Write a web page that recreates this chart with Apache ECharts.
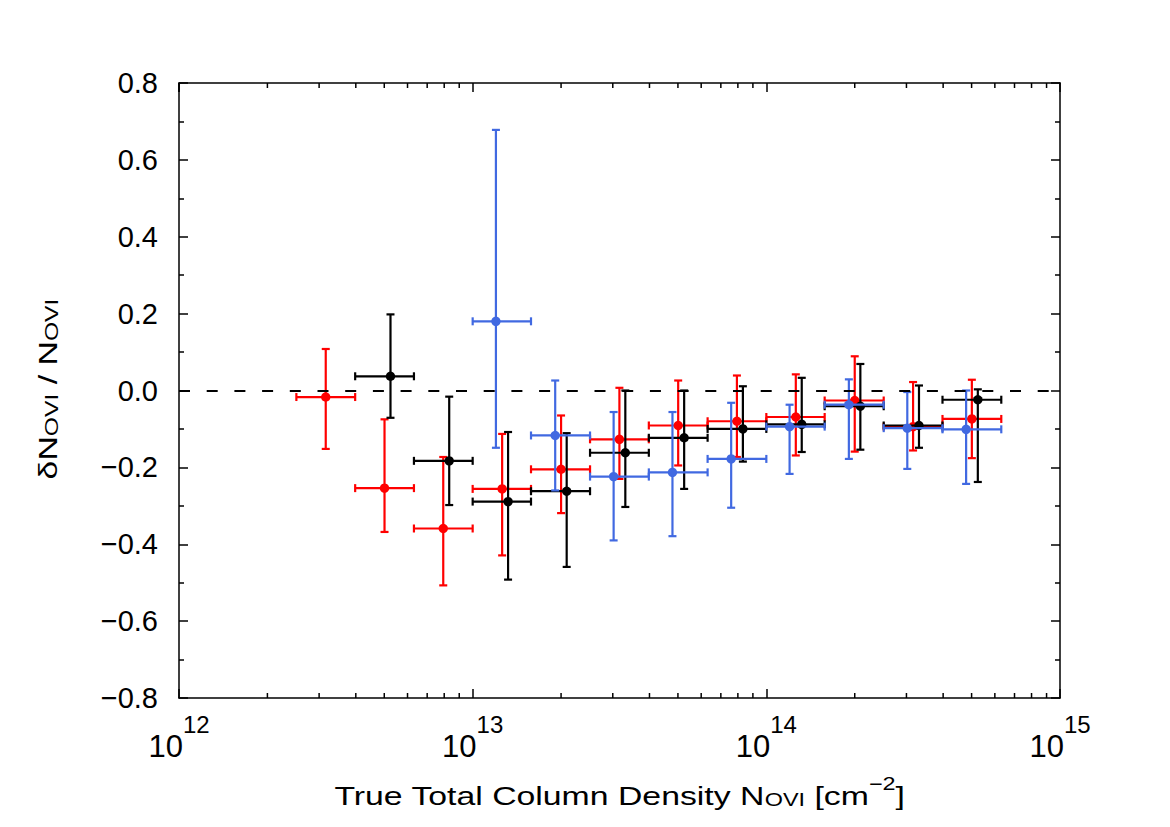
<!DOCTYPE html>
<html><head><meta charset="utf-8">
<script src="https://cdn.jsdelivr.net/npm/echarts@6/dist/echarts.min.js"></script>
<style>html,body{margin:0;padding:0;background:#fff}#c{width:1170px;height:827px}</style>
</head><body><div id="c"></div>
<script>
const FONT = '"Liberation Sans", Arial, Helvetica, sans-serif';

// Red series
const redX   = [3.16e12, 5.01e12, 7.94e12, 1.26e13, 2.00e13, 3.16e13, 5.01e13, 7.94e13, 1.26e14, 2.00e14, 3.16e14, 5.01e14];
const redXLo = [2.51e12, 3.98e12, 6.31e12, 1.00e13, 1.58e13, 2.51e13, 3.98e13, 6.31e13, 1.00e14, 1.58e14, 2.51e14, 3.98e14];
const redXHi = [3.98e12, 6.31e12, 1.00e13, 1.58e13, 2.51e13, 3.98e13, 6.31e13, 1.00e14, 1.58e14, 2.51e14, 3.98e14, 6.31e14];
const redY   = [-0.017, -0.254, -0.359, -0.256, -0.205, -0.127, -0.091, -0.080, -0.069, -0.026, -0.094, -0.074];
const redYHi = [0.108, -0.075, -0.173, -0.113, -0.065, 0.007, 0.026, 0.039, 0.042, 0.089, 0.022, 0.028];
const redYLo = [-0.152, -0.368, -0.507, -0.429, -0.319, -0.230, -0.195, -0.173, -0.169, -0.159, -0.156, -0.176];

// Black series
const blackX   = [5.25e12, 8.32e12, 1.32e13, 2.09e13, 3.31e13, 5.25e13, 8.32e13, 1.32e14, 2.09e14, 3.31e14, 5.25e14];
const blackXLo = [3.98e12, 6.31e12, 1.00e13, 1.58e13, 2.51e13, 3.98e13, 6.31e13, 1.00e14, 1.58e14, 2.51e14, 3.98e14];
const blackXHi = [6.31e12, 1.00e13, 1.58e13, 2.51e13, 3.98e13, 6.31e13, 1.00e14, 1.58e14, 2.51e14, 3.98e14, 6.31e14];
const blackY   = [0.037, -0.183, -0.289, -0.262, -0.162, -0.123, -0.100, -0.088, -0.041, -0.091, -0.024];
const blackYHi = [0.198, -0.016, -0.108, -0.111, 0.000, 0.000, 0.011, 0.033, 0.069, 0.013, 0.003];
const blackYLo = [-0.071, -0.298, -0.492, -0.459, -0.303, -0.256, -0.185, -0.160, -0.154, -0.149, -0.238];

// Blue series
const blueX   = [1.20e13, 1.91e13, 3.02e13, 4.79e13, 7.59e13, 1.20e14, 1.91e14, 3.02e14, 4.79e14];
const blueXLo = [1.00e13, 1.58e13, 2.51e13, 3.98e13, 6.31e13, 1.00e14, 1.58e14, 2.51e14, 3.98e14];
const blueXHi = [1.58e13, 2.51e13, 3.98e13, 6.31e13, 1.00e14, 1.58e14, 2.51e14, 3.98e14, 6.31e14];
const blueY   = [0.180, -0.117, -0.224, -0.213, -0.178, -0.094, -0.037, -0.098, -0.101];
const blueYHi = [0.678, 0.026, -0.056, -0.056, -0.032, -0.037, 0.029, -0.004, 0.000];
const blueYLo = [-0.149, -0.260, -0.390, -0.379, -0.305, -0.217, -0.178, -0.204, -0.243];

// Axis ticks and titles
const xMinorTicks = [2e12,3e12,4e12,5e12,6e12,7e12,8e12,9e12,
                     2e13,3e13,4e13,5e13,6e13,7e13,8e13,9e13,
                     2e14,3e14,4e14,5e14,6e14,7e14,8e14,9e14];
const xTitle = '{n|True Total Column Density N}{sub|OVI}{n| [cm}{sup|\u22122}{n|]}';
const yTitle = '{n|\u03b4N}{sub|OVI}{n| / N}{sub|OVI}';

function rows(xs, ys, xlo, xhi, ylo, yhi) {
  return xs.map((x, i) => [x, ys[i], xlo[i], xhi[i], ylo[i], yhi[i]]);
}

function errSeries(name, color, data, z) {
  return {
    type: 'custom', name: name, data: data, z: z, clip: false,
    encode: { x: [0, 2, 3], y: [1, 4, 5] },
    renderItem: function (params, api) {
      const x = api.value(0), y = api.value(1);
      const c = api.coord([x, y]);
      const l = api.coord([api.value(2), y]);
      const r = api.coord([api.value(3), y]);
      const lo = api.coord([x, api.value(4)]);
      const hi = api.coord([x, api.value(5)]);
      const st = { stroke: color, lineWidth: 2.2, fill: null };
      const cap = 4;
      return { type: 'group', children: [
        { type: 'line', shape: { x1: l[0], y1: c[1], x2: r[0], y2: c[1] }, style: st },
        { type: 'line', shape: { x1: l[0], y1: c[1] - cap, x2: l[0], y2: c[1] + cap }, style: st },
        { type: 'line', shape: { x1: r[0], y1: c[1] - cap, x2: r[0], y2: c[1] + cap }, style: st },
        { type: 'line', shape: { x1: c[0], y1: hi[1], x2: c[0], y2: lo[1] }, style: st },
        { type: 'line', shape: { x1: c[0] - cap, y1: hi[1], x2: c[0] + cap, y2: hi[1] }, style: st },
        { type: 'line', shape: { x1: c[0] - cap, y1: lo[1], x2: c[0] + cap, y2: lo[1] }, style: st },
        { type: 'circle', shape: { cx: c[0], cy: c[1], r: 4.7 }, style: { fill: color, stroke: null } }
      ]};
    }
  };
}

const minorTickSeries = {
  type: 'custom', name: 'minorTicks', silent: true, z: 5, clip: false,
  data: xMinorTicks.map(v => [v, 0]),
  encode: { x: 0, y: 1 },
  renderItem: function (params, api) {
    const v = api.value(0);
    const b = api.coord([v, -0.8]);
    const t = api.coord([v, 0.8]);
    const st = { stroke: '#000', lineWidth: 1.5 };
    return { type: 'group', children: [
      { type: 'line', shape: { x1: b[0], y1: b[1], x2: b[0], y2: b[1] - 5 }, style: st },
      { type: 'line', shape: { x1: t[0], y1: t[1], x2: t[0], y2: t[1] + 5 }, style: st }
    ]};
  }
};

const axisLineStyle = { color: '#000', width: 1.5 };
const yLabelFmt = v => (v < 0 ? '\u2212' + Math.abs(v).toFixed(1) : v.toFixed(1));

const chart = echarts.init(document.getElementById('c'), null, { renderer: 'svg' });
chart.setOption({
  animation: false,
  backgroundColor: '#fff',
  textStyle: { fontFamily: FONT, color: '#000' },
  grid: { left: 179, right: 110, top: 83, bottom: 129, containLabel: false },
  xAxis: [{
    type: 'log', logBase: 10, min: 1e12, max: 1e15, position: 'bottom',
    axisLine: { show: true, onZero: false, lineStyle: axisLineStyle },
    axisTick: { show: true, inside: true, length: 9, lineStyle: axisLineStyle },
    splitLine: { show: false },
    axisLabel: {
      margin: 14,
      formatter: v => '{b|10}{s|' + Math.round(Math.log10(v)) + '}',
      rich: {
        b: { fontFamily: FONT, fontSize: 31, lineHeight: 50, verticalAlign: 'bottom', color: '#000' },
        s: { fontFamily: FONT, fontSize: 24, lineHeight: 24, verticalAlign: 'top', color: '#000' }
      }
    }
  }, {
    type: 'log', logBase: 10, min: 1e12, max: 1e15, position: 'top',
    axisLine: { show: true, onZero: false, lineStyle: axisLineStyle },
    axisTick: { show: true, inside: true, length: 9, lineStyle: axisLineStyle },
    axisLabel: { show: false }, splitLine: { show: false }
  }],
  yAxis: [{
    type: 'value', min: -0.8, max: 0.8, interval: 0.2, position: 'left',
    axisLine: { show: true, onZero: false, lineStyle: axisLineStyle },
    axisTick: { show: true, inside: true, length: 9, lineStyle: axisLineStyle },
    minorTick: { show: true, splitNumber: 2, length: 5, lineStyle: axisLineStyle },
    splitLine: { show: false }, minorSplitLine: { show: false },
    axisLabel: { margin: 21, fontFamily: FONT, fontSize: 29, color: '#000', formatter: yLabelFmt }
  }, {
    type: 'value', min: -0.8, max: 0.8, interval: 0.2, position: 'right',
    axisLine: { show: true, onZero: false, lineStyle: axisLineStyle },
    axisTick: { show: true, inside: true, length: 9, lineStyle: axisLineStyle },
    minorTick: { show: true, splitNumber: 2, length: 5, lineStyle: axisLineStyle },
    splitLine: { show: false }, minorSplitLine: { show: false },
    axisLabel: { show: false }
  }],
  graphic: [{
    type: 'text', x: 619.5, y: 809, scaleX: 1.3, silent: true,
    style: {
      text: xTitle, align: 'center', verticalAlign: 'bottom',
      rich: {
        n: { fontFamily: FONT, fontSize: 26, lineHeight: 34, verticalAlign: 'bottom', fill: '#000' },
        sub: { fontFamily: FONT, fontSize: 18, lineHeight: 12, verticalAlign: 'bottom', fill: '#000' },
        sup: { fontFamily: FONT, fontSize: 18, lineHeight: 17, verticalAlign: 'top', fill: '#000' }
      }
    }
  }, {
    type: 'text', x: 44, y: 389, rotation: Math.PI / 2, scaleX: 1.3, silent: true,
    style: {
      text: yTitle, align: 'center', verticalAlign: 'middle',
      rich: {
        n: { fontFamily: FONT, fontSize: 26, lineHeight: 34, verticalAlign: 'bottom', fill: '#000' },
        sub: { fontFamily: FONT, fontSize: 19, lineHeight: 12, verticalAlign: 'bottom', fill: '#000' }
      }
    }
  }],
  series: [
    minorTickSeries,
    Object.assign(errSeries('red', '#ff0000', rows(redX, redY, redXLo, redXHi, redYLo, redYHi), 2), {
      markLine: {
        silent: true, symbol: ['none', 'none'], label: { show: false },
        lineStyle: { color: '#000', width: 2, type: [11, 16.7] },
        data: [{ yAxis: 0 }]
      }
    }),
    errSeries('black', '#000000', rows(blackX, blackY, blackXLo, blackXHi, blackYLo, blackYHi), 3),
    errSeries('blue', '#4169e1', rows(blueX, blueY, blueXLo, blueXHi, blueYLo, blueYHi), 4)
  ]
});
</script>
</body></html>
